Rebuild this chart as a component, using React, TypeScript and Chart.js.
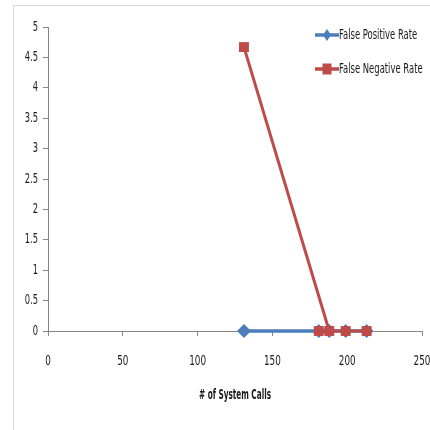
import React, { useEffect, useRef } from "react";
import { Chart, registerables } from "chart.js";

Chart.register(...registerables);

// Number of system calls vs. detection error rates
const fpCalls = [131, 188, 181, 199, 213];
const fpRates = [0, 0, 0, 0, 0];
const fnCalls = [131, 188, 181, 199, 213];
const fnRates = [4.67, 0, 0, 0, 0];

const seriesNames = ["False Positive Rate", "False Negative Rate"];
const xTitle = "# of System Calls";

const BLUE = "#4a7ebb";
const RED = "#be4b48";
const AXIS = "#868686";
const TEXT = "#1a1a1a";
const FONT = "'DejaVu Sans Condensed', 'Liberation Sans', sans-serif";

// Draws text with a horizontal squeeze to imitate a narrow face
function narrowText(
  ctx: CanvasRenderingContext2D,
  text: string,
  x: number,
  y: number,
  align: "left" | "center" | "right",
  font: string,
  squeeze: number
) {
  ctx.save();
  ctx.font = font;
  ctx.fillStyle = TEXT;
  ctx.textBaseline = "middle";
  ctx.textAlign = align;
  ctx.translate(x, y);
  ctx.scale(squeeze, 1);
  ctx.fillText(text, 0, 0);
  ctx.restore();
}

// Frame, narrow tick labels, axis title and in-plot legend
const decorPlugin = {
  id: "decor",
  beforeDraw(chart: any) {
    const ctx = chart.ctx;
    ctx.save();
    ctx.strokeStyle = "#d9d9d9";
    ctx.lineWidth = 1;
    ctx.beginPath();
    ctx.moveTo(13.5, 430);
    ctx.lineTo(13.5, 5.5);
    ctx.lineTo(430, 5.5);
    ctx.stroke();
    ctx.restore();
  },
  afterDraw(chart: any) {
    const ctx = chart.ctx;
    const xs = chart.scales.x;
    const ys = chart.scales.y;
    const tickFont = `14px ${FONT}`;

    xs.ticks.forEach((t: any) => {
      narrowText(ctx, String(t.value), xs.getPixelForValue(t.value), 361, "center", tickFont, 0.7);
    });
    ys.ticks.forEach((t: any) => {
      narrowText(ctx, String(t.value), 38, ys.getPixelForValue(t.value), "right", tickFont, 0.66);
    });
    const area = chart.chartArea;
    narrowText(ctx, xTitle, (area.left + area.right) / 2, 395, "center", `bold 14px ${FONT}`, 0.58);

    const x0 = 315;
    const rows = [35, 69];
    chart.data.datasets.forEach((ds: any, i: number) => {
      const y = rows[i];
      ctx.save();
      ctx.strokeStyle = ds.borderColor;
      ctx.lineWidth = 3.5;
      ctx.beginPath();
      ctx.moveTo(x0, y);
      ctx.lineTo(x0 + 24, y);
      ctx.stroke();
      ctx.fillStyle = ds.backgroundColor;
      const cx = x0 + 12;
      if (ds.pointStyle === "rectRot") {
        ctx.beginPath();
        ctx.moveTo(cx, y - 6);
        ctx.lineTo(cx + 4, y);
        ctx.lineTo(cx, y + 6);
        ctx.lineTo(cx - 4, y);
        ctx.closePath();
        ctx.fill();
      } else {
        ctx.fillRect(cx - 4.5, y - 5.5, 9, 11);
      }
      ctx.restore();
      narrowText(ctx, ds.label, x0 + 24, y, "left", `14px ${FONT}`, 0.67);
    });
  },
};

export default function App() {
  const ref = useRef<HTMLCanvasElement>(null);

  useEffect(() => {
    if (!ref.current) return;
    const chart = new Chart(ref.current, {
      type: "scatter",
      data: {
        datasets: [
          {
            label: seriesNames[0],
            data: fpCalls.map((x, i) => ({ x, y: fpRates[i] })),
            showLine: true,
            order: 2,
            clip: false,
            borderColor: BLUE,
            backgroundColor: BLUE,
            borderWidth: 3.5,
            pointStyle: "rectRot",
            pointRadius: 7,
            pointBorderWidth: 0,
          },
          {
            label: seriesNames[1],
            data: fnCalls.map((x, i) => ({ x, y: fnRates[i] })),
            showLine: true,
            order: 1,
            clip: false,
            borderColor: RED,
            backgroundColor: RED,
            borderWidth: 3,
            pointStyle: "rect",
            pointRadius: 7,
            pointBorderWidth: 0,
          },
        ],
      },
      options: {
        animation: false,
        responsive: false,
        layout: { padding: { top: 27, right: 8, left: 0, bottom: 0 } },
        plugins: {
          legend: { display: false },
          tooltip: { enabled: false },
        },
        scales: {
          x: {
            type: "linear",
            min: 0,
            max: 250,
            afterFit: (s: any) => {
              s.height = 99;
              s.paddingLeft = 0;
              s.paddingRight = 0;
            },
            ticks: { stepSize: 50, display: false },
            grid: {
              drawOnChartArea: false,
              drawTicks: true,
              tickLength: 5,
              color: AXIS,
            },
            border: { color: AXIS, width: 1 },
          },
          y: {
            type: "linear",
            min: 0,
            max: 5,
            afterFit: (s: any) => {
              s.width = 48;
              s.paddingTop = 0;
              s.paddingBottom = 0;
            },
            ticks: { stepSize: 0.5, display: false },
            grid: {
              drawOnChartArea: false,
              drawTicks: true,
              tickLength: 5,
              color: AXIS,
            },
            border: { color: AXIS, width: 1 },
          },
        },
      },
      plugins: [decorPlugin],
    });
    return () => chart.destroy();
  }, []);

  return (
    <div style={{ position: "absolute", left: 0, top: 0, width: 430, height: 430, background: "#fff" }}>
      <canvas ref={ref} width={430} height={430} style={{ width: 430, height: 430 }} />
    </div>
  );
}
